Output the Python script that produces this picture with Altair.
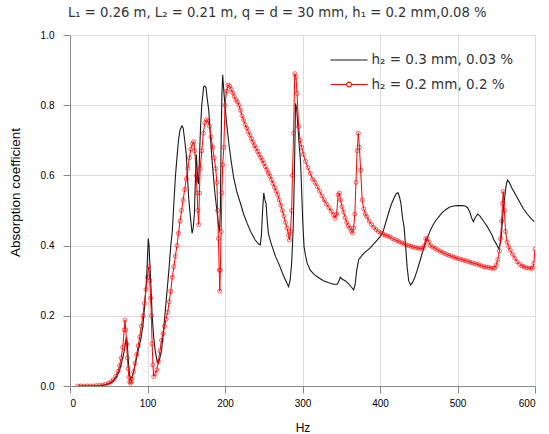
import altair as alt
import pandas as pd

LABEL_A = "h\u2082 = 0.3 mm, 0.03 %"
LABEL_B = "h\u2082 = 0.2 mm, 0.2 %"
TITLE = "L\u2081 = 0.26 m, L\u2082 = 0.21 m, q = d = 30 mm, h\u2081 = 0.2 mm,0.08 %"

# Series A: h2 = 0.3 mm, 0.03 %
hz_a = [10, 20, 30, 40, 45, 50, 55, 60, 64, 67, 70, 72, 73, 74, 75, 76, 77, 78, 80, 82,
        85, 88, 91, 94, 96, 98, 99.5, 101, 102, 103, 104.5, 106, 108, 110, 112, 114, 116, 118, 120, 122,
        124, 126, 128, 130, 132, 134, 136, 138, 140, 142, 144.5, 146, 148, 150, 151.5, 153, 155, 157.5, 159, 160.5,
        162, 163, 164, 165, 166, 167, 168.5, 170, 172.5, 174, 175.5, 177, 179, 181, 183, 185, 187, 189, 191, 192,
        193, 194, 195, 196, 197, 198.5, 200.5, 202.5, 205, 208, 211, 215, 220, 224, 228.5, 233, 239, 243,
        245.5, 247, 248.5, 250, 251.5, 253, 254.5, 256, 259, 262, 265, 268, 271, 274, 278, 282, 284, 286,
        288, 289.5, 291, 292.5, 294, 296, 297.5, 299, 300.5, 302, 304, 306, 310, 315, 320, 327, 333, 340,
        345, 347, 349, 351, 355, 360, 363, 366, 368, 370, 372.5, 376, 380, 384, 388, 392, 396, 400,
        404, 408, 412, 415, 418, 421, 423, 425, 427, 429, 431, 433, 435, 437, 439.5, 442, 445, 448,
        452, 456, 460, 465, 470, 475, 480, 485, 490, 495, 500, 505, 510, 513, 516, 518, 520.5, 523,
        526, 529, 532, 535, 538.5, 542, 545, 547, 550, 553, 555.5, 557, 559, 561, 563, 564.5, 567, 570,
        575, 580, 585, 590, 595, 599]
abs_a = [0.0, 0.0, 0.0, 0.001, 0.003, 0.006, 0.012, 0.025, 0.045, 0.07, 0.1, 0.13, 0.14, 0.12, 0.08, 0.05, 0.03, 0.02, 0.025, 0.04,
         0.07, 0.1, 0.13, 0.17, 0.22, 0.28, 0.34, 0.42, 0.4, 0.35, 0.28, 0.2, 0.14, 0.1, 0.075, 0.065, 0.08, 0.1, 0.14, 0.19,
         0.24, 0.29, 0.34, 0.4, 0.44, 0.52, 0.596, 0.65, 0.7, 0.73, 0.741, 0.735, 0.7, 0.66, 0.6, 0.54, 0.49, 0.435, 0.45, 0.49,
         0.6, 0.66, 0.62, 0.58, 0.577, 0.65, 0.74, 0.8, 0.853, 0.855, 0.85, 0.82, 0.786, 0.72, 0.65, 0.6, 0.55, 0.51, 0.47, 0.454,
         0.44, 0.5, 0.7, 0.83, 0.886, 0.84, 0.786, 0.74, 0.69, 0.64, 0.596, 0.555, 0.52, 0.49, 0.464, 0.44, 0.416, 0.405,
         0.402, 0.43, 0.5, 0.55, 0.53, 0.52, 0.47, 0.435, 0.41, 0.39, 0.37, 0.355, 0.34, 0.322, 0.302, 0.283, 0.3, 0.35,
         0.45, 0.6, 0.805, 0.79, 0.74, 0.68, 0.64, 0.55, 0.46, 0.397, 0.37, 0.35, 0.33, 0.318, 0.31, 0.3, 0.295, 0.29,
         0.29, 0.3, 0.31, 0.305, 0.3, 0.29, 0.282, 0.274, 0.29, 0.33, 0.36, 0.37, 0.38, 0.387, 0.395, 0.405, 0.415, 0.425,
         0.44, 0.47, 0.5, 0.52, 0.535, 0.548, 0.551, 0.54, 0.52, 0.48, 0.454, 0.4, 0.34, 0.3, 0.288, 0.295, 0.31, 0.33,
         0.359, 0.39, 0.415, 0.444, 0.465, 0.48, 0.493, 0.503, 0.51, 0.513, 0.514, 0.514, 0.513, 0.508, 0.495, 0.48, 0.468, 0.48,
         0.49, 0.484, 0.475, 0.465, 0.454, 0.44, 0.428, 0.416, 0.405, 0.392, 0.406, 0.44, 0.5, 0.54, 0.575, 0.587, 0.58, 0.565,
         0.545, 0.525, 0.505, 0.49, 0.477, 0.468]

# Series B: h2 = 0.2 mm, 0.2 %
hz_b = [10, 14, 18, 22, 26, 30, 34, 38, 42, 46, 50, 53, 56, 59, 62, 64, 66, 68, 70, 71,
        72, 73, 74, 75, 76, 77, 78, 79, 80, 82, 84, 86, 88, 90, 92, 94, 96, 98, 100, 101.5,
        103, 104, 105, 106, 107, 108, 110, 112, 114, 116, 118, 120, 122, 124, 126, 128, 130, 132, 134, 136,
        138, 140, 142, 144, 146, 148, 150, 152, 154, 156, 158, 159.5, 161, 163, 164, 165, 166, 167, 168, 170,
        172, 174, 176, 178, 180, 182, 184, 186, 188, 189.5, 190.5, 191.5, 192.5, 193.3, 194, 195, 196, 197, 198.5, 200,
        202, 204, 206, 208, 210, 212, 214, 216, 218, 220, 222, 224, 226, 228, 230, 232, 234, 236, 238, 240,
        242, 244, 246, 248, 250, 252, 254, 256, 258, 260, 262, 264, 266, 268, 270, 272, 274, 276, 278, 280,
        282, 283, 284.5, 286, 287, 288.5, 290, 291.5, 293, 295, 297, 299, 301, 304, 307, 310, 313, 316, 319, 322,
        325, 328, 331, 334, 337, 340, 342, 344, 346, 347.5, 349, 351, 353, 355, 357, 359, 361, 363, 364.5, 366,
        367.5, 369, 370.5, 372, 373.5, 375, 377, 379, 381, 383, 386, 389, 392, 395, 398, 401, 404, 407, 410, 413,
        416, 419, 422, 425, 428, 431, 434, 437, 440, 443, 446, 449, 452, 455, 457, 459, 461, 463, 465, 468,
        471, 474, 477, 480, 483, 486, 489, 492, 495, 498, 501, 504, 507, 510, 513, 516, 519, 522, 525, 528,
        531, 534, 537, 540, 543, 546, 548, 550, 552, 554, 555.5, 557, 558, 559, 560.5, 562, 564, 566, 568, 571,
        574, 577, 580, 583, 586, 589, 592, 595, 597, 598.5, 600]
abs_b = [0.0, 0.0, 0.0, 0.0, 0.0, 0.0, 0.001, 0.002, 0.003, 0.005, 0.008, 0.012, 0.018, 0.028, 0.042, 0.058, 0.08, 0.11, 0.16, 0.188,
         0.16, 0.12, 0.08, 0.05, 0.025, 0.012, 0.008, 0.012, 0.02, 0.04, 0.065, 0.09, 0.115, 0.14, 0.17, 0.2, 0.235, 0.275, 0.31, 0.34,
         0.3, 0.25, 0.2, 0.12, 0.06, 0.027, 0.035, 0.046, 0.07, 0.1, 0.13, 0.15, 0.17, 0.19, 0.21, 0.24, 0.27, 0.31, 0.34, 0.37,
         0.4, 0.435, 0.47, 0.5, 0.53, 0.56, 0.59, 0.62, 0.65, 0.675, 0.69, 0.696, 0.67, 0.6, 0.55, 0.5, 0.46, 0.55, 0.62, 0.67,
         0.72, 0.75, 0.758, 0.755, 0.74, 0.71, 0.68, 0.65, 0.62, 0.58, 0.5, 0.42, 0.33, 0.27, 0.33, 0.44, 0.55, 0.63, 0.68, 0.8,
         0.84, 0.857, 0.855, 0.845, 0.835, 0.825, 0.815, 0.81, 0.8, 0.785, 0.77, 0.758, 0.745, 0.735, 0.725, 0.715, 0.705, 0.695, 0.685, 0.677,
         0.668, 0.66, 0.651, 0.643, 0.634, 0.625, 0.616, 0.607, 0.598, 0.588, 0.577, 0.566, 0.555, 0.545, 0.53, 0.515, 0.5, 0.484, 0.466, 0.45,
         0.43, 0.416, 0.44, 0.5, 0.6, 0.72, 0.89, 0.88, 0.834, 0.739, 0.7, 0.68, 0.66, 0.64, 0.622, 0.606, 0.59, 0.58, 0.568, 0.555,
         0.542, 0.53, 0.518, 0.508, 0.498, 0.488, 0.478, 0.49, 0.545, 0.55, 0.53, 0.511, 0.495, 0.48, 0.466, 0.457, 0.45, 0.442, 0.436, 0.45,
         0.49, 0.58, 0.67, 0.72, 0.68, 0.615, 0.53, 0.505, 0.49, 0.482, 0.47, 0.46, 0.452, 0.446, 0.44, 0.436, 0.432, 0.43, 0.427, 0.425,
         0.42, 0.417, 0.414, 0.411, 0.408, 0.405, 0.402, 0.4, 0.398, 0.396, 0.394, 0.393, 0.392, 0.392, 0.4, 0.42, 0.42, 0.41, 0.4, 0.396,
         0.392, 0.388, 0.385, 0.381, 0.378, 0.375, 0.372, 0.37, 0.367, 0.365, 0.363, 0.361, 0.359, 0.357, 0.355, 0.353, 0.351, 0.349, 0.347, 0.345,
         0.342, 0.34, 0.339, 0.338, 0.336, 0.335, 0.336, 0.345, 0.36, 0.385, 0.42, 0.47, 0.52, 0.554, 0.5, 0.44, 0.41, 0.397, 0.387, 0.375,
         0.364, 0.354, 0.347, 0.342, 0.34, 0.337, 0.336, 0.335, 0.336, 0.35, 0.39]

BLACK = "#1a1a1a"
RED = "#ff0000"

df_a = pd.DataFrame({"hz": hz_a, "alpha": abs_a, "series": LABEL_A})
df_b = pd.DataFrame({"hz": hz_b, "alpha": abs_b, "series": LABEL_B})
both = pd.concat([df_a, df_b], ignore_index=True)

FONT = "Liberation Sans"
WIDE_FONT = "DejaVu Sans"
AXIS_GRAY = "#555555"

x_enc = alt.X(
    "hz:Q",
    scale=alt.Scale(domain=[0, 600], nice=False),
    axis=alt.Axis(
        title="Hz",
        values=list(range(0, 601, 50)),
        labelExpr="datum.value % 100 === 0 ? datum.label : ''",
        tickSize={"condition": {"test": "datum.value % 100 === 0", "value": 7}, "value": 4},
        labelPadding=5,
        titlePadding=14,
        titleFontSize=12,
        titleFontWeight="normal",
    ),
)
y_enc = alt.Y(
    "alpha:Q",
    scale=alt.Scale(domain=[0, 1], nice=False),
    axis=alt.Axis(
        title="Absorption coefficient",
        values=[round(v * 0.1, 1) for v in range(0, 11)],
        format=".1f",
        labelExpr="round(datum.value * 10) % 2 === 0 ? datum.label : ''",
        tickSize={"condition": {"test": "round(datum.value * 10) % 2 === 0", "value": 7}, "value": 4},
        labelPadding=9,
        titleX=-55,
        titleY=157,
        titleBaseline="middle",
        titleFontSize=13.5,
        titleFontWeight="normal",
    ),
)

line_a = alt.Chart(df_a).mark_line(strokeWidth=1.1, color=BLACK, clip=True).encode(x=x_enc, y=y_enc)
line_b = alt.Chart(df_b).mark_line(strokeWidth=1.0, color=RED, clip=True).encode(x="hz:Q", y="alpha:Q")
markers_b = alt.Chart(df_b).mark_point(
    shape="circle", filled=False, size=16, strokeWidth=0.9, color=RED, clip=True
).encode(x="hz:Q", y="alpha:Q")

# legend glyphs: a plain stroke, and a stroke broken by an open circle
legend_layer = alt.Chart(both).mark_point(opacity=0, clip=True).encode(
    x="hz:Q",
    y="alpha:Q",
    color=alt.Color(
        "series:N",
        scale=alt.Scale(domain=[LABEL_A, LABEL_B], range=[BLACK, RED]),
        legend=alt.Legend(
            title=None,
            orient="none",
            legendX=269,
            legendY=15,
            padding=0,
            rowPadding=7.5,
            labelOffset=12.5,
            labelFontSize=13.5,
            labelFont=WIDE_FONT,
            labelColor="#333333",
            symbolSize=342,
            symbolStrokeWidth=1.1,
            symbolFillColor="white",
            symbolOpacity=1,
        ),
    ),
    shape=alt.Shape(
        "series:N",
        scale=alt.Scale(
            domain=[LABEL_A, LABEL_B],
            range=[
                "M-2,0H2",
                "M-2,0H-0.26M0.26,0H2M-0.26,0A0.26,0.26,0,1,1,0.26,0A0.26,0.26,0,1,1,-0.26,0",
            ],
        ),
        legend=alt.Legend(title=None, orient="none", legendX=269, legendY=15),
    ),
)

chart = (
    alt.layer(line_a, line_b, markers_b, legend_layer)
    .properties(
        width=465,
        height=351,
        autosize=alt.AutoSizeParams(type="none"),
        padding={"left": 70, "top": 35, "right": 14, "bottom": 48},
        title=alt.TitleParams(
            TITLE,
            anchor="start",
            frame="group",
            dx=-2,
            offset=10,
            fontSize=13.2,
            fontWeight="normal",
            font=WIDE_FONT,
            color="#333333",
        ),
    )
    .configure_view(stroke=AXIS_GRAY, strokeWidth=1.5)
    .configure_axis(
        grid=False,
        domainColor=AXIS_GRAY,
        domainWidth=1.5,
        tickColor=AXIS_GRAY,
        tickWidth=1.2,
        labelFont=FONT,
        labelFontSize=11,
        labelColor="#555555",
        titleFont=FONT,
        titleColor="#333333",
    )
    .configure(background="white")
)

chart.save("out.html", embed_options={"renderer": "svg", "actions": False})
